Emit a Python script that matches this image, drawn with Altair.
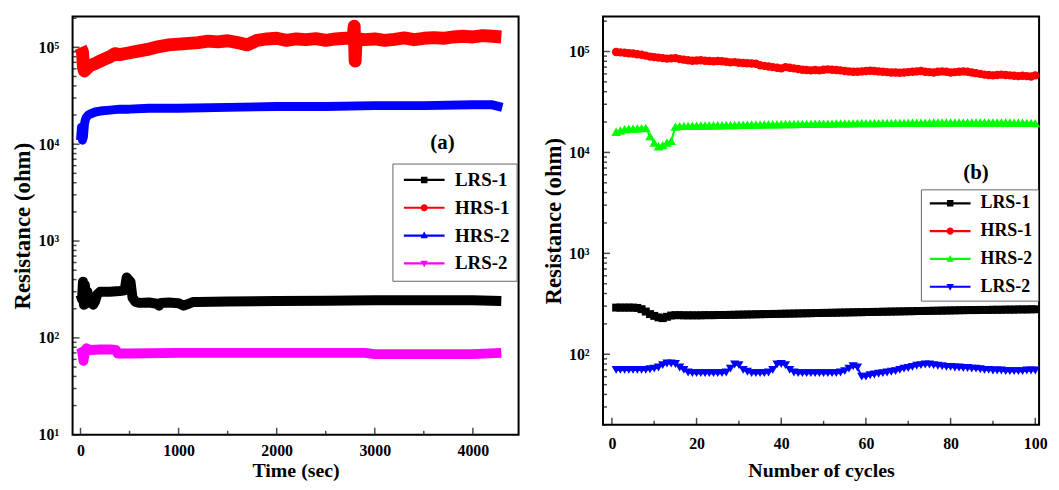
import math
import altair as alt
import pandas as pd

FONT = "Liberation Serif"

# ---------------- Panel (a): resistance vs time ----------------
a_names = ["LRS-1", "HRS-1", "HRS-2", "LRS-2"]
a_colors = ["#000000", "#ff0000", "#0000ff", "#ff00ff"]
a_widths = [10, 13, 9, 10]

a_lrs1_t = [0, 15, 25, 35, 45, 55, 70, 90, 110, 130, 150, 170, 200, 300, 400, 450, 470, 490, 510, 530,
            560, 600, 700, 780, 800, 820, 900, 1000, 1050, 1100, 1150, 1200, 1500, 2000, 2500, 3000,
            3500, 4000, 4290]
a_lrs1_v = [280, 250, 380, 220, 350, 230, 300, 230, 260, 220, 240, 280, 300, 300, 305, 310, 420, 400, 380, 260,
            235, 230, 232, 225, 215, 230, 232, 228, 215, 225, 235, 235, 238, 240, 242, 245,
            245, 245, 240]

a_hrs1_t = [0, 20, 30, 40, 60, 100, 150, 200, 250, 300, 350, 400, 500, 600, 700, 800, 900, 1000, 1100, 1200,
            1300, 1400, 1500, 1600, 1700, 1800, 1900, 2000, 2100, 2200, 2300, 2400, 2500, 2600, 2700,
            2780, 2790, 2800, 2810, 2830, 2900, 3000, 3100, 3200, 3300, 3400, 3500, 3600, 3700, 3800,
            3900, 4000, 4100, 4200, 4290]
a_hrs1_v = [100000, 90000, 62000, 57000, 60000, 65000, 68000, 72000, 76000, 80000, 86000, 84000, 88000,
            92000, 96000, 102000, 106000, 108000, 110000, 112000, 116000, 114000, 117000, 112000, 106000,
            118000, 122000, 124000, 118000, 122000, 120000, 123000, 118000, 122000, 124000, 126000,
            165000, 72000, 126000, 122000, 120000, 122000, 118000, 121000, 125000, 120000, 124000,
            126000, 124000, 128000, 130000, 128000, 132000, 130000, 128000]

a_hrs2_t = [0, 10, 20, 30, 40, 50, 60, 80, 100, 150, 200, 300, 400, 500, 700, 1000, 1500, 2000, 2500,
            3000, 3500, 4000, 4200, 4300]
a_hrs2_v = [11000, 15000, 11000, 12000, 16000, 18000, 19000, 20000, 20500, 21500, 22000, 22500, 23000,
            23000, 23500, 23500, 24000, 24500, 24500, 25000, 25000, 25500, 25500, 24000]

a_lrs2_t = [0, 15, 30, 45, 60, 100, 200, 300, 360, 380, 500, 1000, 1500, 2000, 2500, 2900, 3000, 3500,
            4000, 4290]
a_lrs2_v = [80, 75, 58, 72, 78, 75, 76, 76, 75, 69, 69, 70, 70, 70, 70, 70, 68, 68, 68, 70]

a_label = ["(a)"]
a_label_x = [3690]
a_label_y = [10300]

# ---------------- Panel (b): resistance vs cycles ----------------
b_names = ["LRS-1", "HRS-1", "HRS-2", "LRS-2"]
b_colors = ["#000000", "#ff0000", "#00ff00", "#0000ff"]
b_cycles = list(range(1, 101))

b_lrs1 = [290, 290, 290, 290, 290, 288, 280, 265, 250, 240,
          232, 228, 235, 242, 244, 244, 243, 243, 243, 243,
          243, 244, 244, 244, 245, 245, 245, 246, 246, 247,
          247, 248, 248, 249, 249, 250, 250, 251, 251, 252,
          252, 253, 253, 254, 254, 255, 255, 256, 256, 257,
          257, 258, 258, 259, 259, 260, 260, 261, 261, 262,
          262, 263, 263, 264, 264, 265, 265, 266, 266, 267,
          267, 268, 268, 269, 269, 270, 270, 271, 271, 272,
          272, 273, 273, 274, 274, 274, 275, 275, 275, 276,
          276, 276, 277, 277, 277, 278, 278, 278, 279, 279]

b_hrs1 = [99000, 98000, 97000, 96000, 95500, 94000, 93000, 91000, 89000, 88000,
          87000, 86000, 85000, 85500, 86000, 84000, 83000, 82000, 81000, 81500,
          82000, 81000, 80500, 80000, 80500, 80000, 79000, 78000, 78500, 77500,
          77000, 76500, 76000, 75500, 73000, 72000, 71000, 70000, 69000, 68000,
          70000, 69000, 68000, 67000, 66000, 65500, 65000, 65500, 65000, 66000,
          66500, 66000, 65500, 65000, 64000, 63500, 63000, 63000, 63500, 64000,
          64500, 64000, 63500, 63000, 62500, 62000, 62000, 61500, 62000, 62500,
          63000, 63500, 64000, 63000, 62500, 62000, 63000, 63500, 63000, 62000,
          62500, 63000, 63500, 63000, 62000, 61000, 60000, 59000, 58500, 58000,
          58500, 59000, 58500, 58000, 57500, 57000, 57500, 57000, 56500, 58000]

b_hrs2 = [16000, 16500, 17000, 17200, 17200, 17300, 17400, 17500, 14500, 12500,
          11500, 11800, 12500, 13000, 18000, 18200, 18300, 18300, 18400, 18400,
          18500, 18500, 18500, 18600, 18600, 18600, 18700, 18700, 18700, 18800,
          18800, 18800, 18900, 18900, 18900, 19000, 19000, 19000, 19000, 19100,
          19100, 19100, 19100, 19200, 19200, 19200, 19200, 19300, 19300, 19300,
          19300, 19300, 19400, 19400, 19400, 19400, 19400, 19500, 19500, 19500,
          19500, 19500, 19500, 19600, 19600, 19600, 19600, 19600, 19600, 19700,
          19700, 19700, 19700, 19700, 19700, 19800, 19800, 19800, 19800, 19800,
          19800, 19800, 19800, 19800, 19800, 19800, 19800, 19800, 19800, 19800,
          19800, 19800, 19800, 19800, 19700, 19700, 19700, 19600, 19600, 19500]

b_lrs2 = [70, 70, 70, 70, 70, 70, 70, 70, 71, 72,
          74, 78, 81, 81, 80, 74, 70, 66, 65, 65,
          65, 65, 65, 65, 65, 65, 66, 72, 79, 78,
          70, 67, 65, 65, 65, 65, 66, 70, 79, 80,
          78, 70, 66, 65, 65, 65, 65, 65, 65, 65,
          65, 65, 65, 66, 68, 72, 76, 74, 60, 60,
          62, 63, 64, 65, 66, 67, 68, 70, 72, 73,
          75, 77, 78, 79, 79, 78, 77, 76, 75, 75,
          74, 74, 73, 73, 72, 72, 71, 70, 70, 69,
          69, 69, 68, 68, 68, 68, 68, 69, 69, 69]

b_label = ["(b)"]
b_label_x = [86]
b_label_y = [6300]

# axis tick labels
y_label_values = [10, 100, 1000, 10000, 100000]
y_label_text = ["10\u00b9", "10\u00b2", "10\u00b3", "10\u2074", "10\u2075"]
a_x_labels = [0, 1000, 2000, 3000, 4000]
a_x_minor = [500, 1500, 2500, 3500]
b_x_labels = [0, 20, 40, 60, 80, 100]
b_x_minor = [10, 30, 50, 70, 90]


def series_df(names, xs_list, ys_list):
    rows = []
    for n, xs, ys in zip(names, xs_list, ys_list):
        for x, y in zip(xs, ys):
            rows.append({"s": n, "x": x, "y": y})
    return pd.DataFrame(rows)


def log_ticks(lo, hi):
    major, minor = [], []
    for e in range(0, 7):
        for m in range(1, 10):
            v = m * 10 ** e
            if lo <= v <= hi:
                (major if m == 1 else minor).append(v)
    return major, minor


label_expr = ""
for v, t in zip(y_label_values[:-1], y_label_text[:-1]):
    label_expr += f"datum.value == {v} ? '{t}' : "
label_expr += f"'{y_label_text[-1]}'"

# legend symbols: line + marker as custom paths (unit coords scaled by symbol size)
LINE = "M-1,-0.22L7.2,-0.22L7.2,0.22L-1,0.22Z"
SQUARE = "M2.45,-0.65L3.75,-0.65L3.75,0.65L2.45,0.65Z"
CIRCLE = "M" + "L".join(
    f"{3.1 + 0.72 * math.cos(2 * math.pi * k / 16):.3f},{0.72 * math.sin(2 * math.pi * k / 16):.3f}"
    for k in range(16)) + "Z"
TRI_UP = "M3.1,-0.8L3.85,0.55L2.35,0.55Z"
TRI_DOWN = "M3.1,0.8L2.35,-0.55L3.85,-0.55Z"
LEGEND_PATHS = [LINE + SQUARE, LINE + CIRCLE, LINE + TRI_UP, LINE + TRI_DOWN]
POINT_SHAPES = ["square", "circle", "triangle-up", "triangle-down"]
POINT_SIZES = [64, 72, 95, 85]


def y_axis(values):
    return alt.Axis(values=values, labelExpr=label_expr, ticks=False, domain=False, grid=False,
                    labelFont=FONT, labelFontSize=16, labelFontWeight="bold", labelColor="black",
                    labelPadding=14, minExtent=36, maxExtent=36,
                    title="Resistance (ohm)", titleFont=FONT, titleFontSize=23, titleFontWeight="bold",
                    titleColor="black", titlePadding=2)


def x_axis(values, title, lpad, tpad):
    return alt.Axis(values=values, format="d", ticks=False, domain=False, grid=False, labelFlush=False,
                    labelFont=FONT, labelFontSize=16, labelFontWeight="bold", labelColor="black",
                    labelPadding=lpad, title=title, titleFont=FONT, titleFontSize=20,
                    titleFontWeight="bold", titleColor="black", titlePadding=tpad)


def legend(x, y, fsize, pad, rowpad):
    return alt.Legend(orient="none", legendX=x, legendY=y, title=None, direction="vertical",
                      labelFont=FONT, labelFontSize=fsize, labelFontWeight="bold", labelColor="black",
                      symbolSize=100, symbolStrokeWidth=0, symbolOpacity=1, labelOffset=37,
                      rowPadding=rowpad, padding=pad, strokeColor="#666666", fillColor="white",
                      labelLimit=300)


def build_panel(W, H, xs, ys, xax, yax, df, names, colors, widths, shapes, sizes,
                xmaj, xmin, ymaj, ymin, leg, lab):
    X = alt.X("x:Q", scale=xs, axis=xax)
    Y = alt.Y("y:Q", scale=ys, axis=yax)
    layers = []
    # inward ticks
    for vals, ln in ((ymaj, 7), (ymin, 4)):
        layers.append(alt.Chart(pd.DataFrame({"y": vals})).mark_tick(
            orient="horizontal", size=ln, thickness=1.5, color="black").encode(
            y=Y, x=alt.value(ln / 2)))
    for vals, ln in ((xmaj, 7), (xmin, 4)):
        layers.append(alt.Chart(pd.DataFrame({"x": vals})).mark_tick(
            orient="vertical", size=ln, thickness=1.5, color="black").encode(
            x=X, y=alt.value(H - ln / 2)))
    # series
    for name, c, w in zip(names, colors, widths):
        layers.append(alt.Chart(df).transform_filter(alt.datum.s == name).mark_line(
            color=c, strokeWidth=w, strokeJoin="round").encode(x=X, y=Y, order=alt.Order("x:Q")))
    if shapes:
        for name, c, shp, sz in zip(names, colors, shapes, sizes):
            layers.append(alt.Chart(df).transform_filter(alt.datum.s == name).mark_point(
                filled=True, opacity=1, shape=shp, size=sz, color=c).encode(x=X, y=Y))
    # legend carrier (no visible marks)
    layers.append(alt.Chart(df).transform_filter("false").mark_point(filled=True, opacity=1).encode(
        x=X, y=Y,
        color=alt.Color("s:N", scale=alt.Scale(domain=names, range=colors), legend=leg),
        shape=alt.Shape("s:N", scale=alt.Scale(domain=names, range=LEGEND_PATHS), legend=leg)))
    # panel label
    layers.append(alt.Chart(lab).mark_text(font=FONT, fontSize=21, fontWeight="bold", color="black")
                  .encode(x=X, y=Y, text="t:N"))
    return alt.layer(*layers).properties(width=W, height=H)


# ---------- panel (a) ----------
WA, HA = 449, 421
xs_a = alt.Scale(domain=[-81, 4466], nice=False, zero=False)
ys_a = alt.Scale(type="log", domain=[10, 208000], nice=False)
df_a = series_df(a_names, [a_lrs1_t, a_hrs1_t, a_hrs2_t, a_lrs2_t], [a_lrs1_v, a_hrs1_v, a_hrs2_v, a_lrs2_v])
ymaj_a, ymin_a = log_ticks(10, 208000)
panel_a = build_panel(
    WA, HA, xs_a, ys_a, x_axis(a_x_labels, "Time (sec)", 8, 2), y_axis(y_label_values),
    df_a, a_names, a_colors, a_widths, None, None,
    a_x_labels, a_x_minor, ymaj_a, ymin_a, legend(322, 148, 19, 7, 8),
    pd.DataFrame({"x": a_label_x, "y": a_label_y, "t": a_label}))

# ---------- panel (b) ----------
WB, HB = 439, 411
xs_b = alt.Scale(domain=[-2.1, 100.9], nice=False, zero=False)
ys_b = alt.Scale(type="log", domain=[20, 222000], nice=False)
df_b = series_df(b_names, [b_cycles] * 4, [b_lrs1, b_hrs1, b_hrs2, b_lrs2])
ymaj_b, ymin_b = log_ticks(20, 222000)
panel_b = build_panel(
    WB, HB, xs_b, ys_b, x_axis(b_x_labels, "Number of cycles", 11, 9), y_axis(y_label_values[1:]),
    df_b, b_names, b_colors, [2, 2, 2, 2], POINT_SHAPES, POINT_SIZES,
    b_x_labels, b_x_minor, ymaj_b, ymin_b, legend(320, 174, 18, 5, 10),
    pd.DataFrame({"x": b_label_x, "y": b_label_y, "t": b_label}))

chart = alt.hconcat(panel_a, panel_b, spacing=22).resolve_scale(
    x="independent", y="independent", color="independent", shape="independent"
).resolve_legend(color="independent", shape="independent").configure_view(
    stroke="black", strokeWidth=2
).properties(padding={"left": 3, "top": 6, "right": 2, "bottom": 0})

chart.save("out.html", embed_options={"renderer": "svg", "actions": False})
